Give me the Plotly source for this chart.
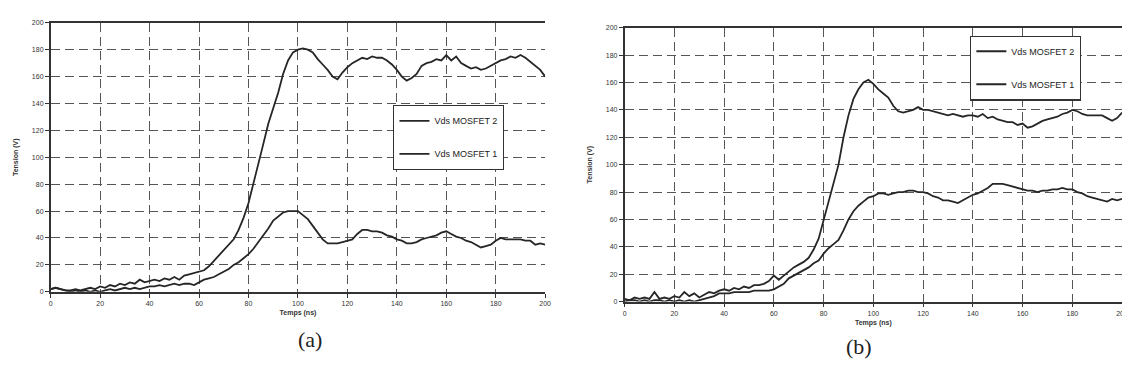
import plotly.graph_objects as go
from plotly.subplots import make_subplots

temps = list(range(0, 201, 2))

# (a) tensions Vds (V)
vds2_a = [2, 3, 2, 1, 1, 2, 1, 2, 3, 2, 4, 3, 5, 4, 6, 5, 7, 6, 9, 7,
          8, 9, 8, 10, 9, 11, 9, 12, 13, 14, 15, 16, 19, 23, 27, 31, 35, 39, 46, 55,
          66, 80, 95, 110, 125, 137, 148, 162, 172, 178, 180, 181, 180, 178, 173, 169, 165, 160, 158, 163,
          167, 170, 172, 174, 173, 175, 174, 174, 172, 169, 165, 160, 157, 159, 162, 168, 170, 171, 173, 172,
          176, 172, 175, 170, 168, 166, 167, 165, 166, 168, 170, 172, 173, 175, 174, 176, 174, 171, 168, 165,
          160]
vds1_a = [2, 3, 2, 1, 0, 1, 0, 1, 0, 1, 0, 1, 2, 1, 2, 3, 2, 3, 2, 3,
          4, 4, 5, 4, 5, 6, 5, 6, 6, 5, 7, 9, 10, 11, 13, 15, 17, 20, 22, 25,
          28, 32, 37, 42, 47, 53, 56, 59, 60, 60, 60, 57, 54, 49, 44, 39, 36, 36, 36, 37,
          38, 39, 43, 46, 46, 45, 45, 44, 42, 41, 39, 38, 36, 36, 37, 39, 40, 41, 42, 44,
          45, 43, 41, 40, 38, 37, 35, 33, 34, 35, 38, 40, 39, 39, 39, 39, 38, 38, 35, 36,
          35]

# (b)
vds2_b = [2, 1, 3, 2, 3, 2, 7, 2, 3, 2, 4, 3, 7, 4, 6, 3, 5, 7, 6, 8,
          9, 8, 10, 9, 11, 10, 12, 12, 13, 15, 19, 16, 19, 22, 25, 27, 29, 32, 38, 46,
          60, 72, 88, 100, 120, 136, 148, 155, 160, 162, 159, 155, 152, 149, 143, 139, 138, 139, 140, 142,
          140, 140, 139, 138, 137, 136, 137, 136, 135, 136, 136, 135, 137, 134, 135, 133, 132, 131, 131, 129,
          130, 127, 128, 130, 132, 133, 134, 135, 137, 138, 140, 139, 137, 136, 136, 136, 136, 134, 132, 134,
          138]
vds1_b = [0, 1, 1, 0, 1, 0, 1, 1, 0, 1, 0, 1, 0, 1, 0, 1, 2, 3, 4, 6,
          6, 6, 7, 7, 7, 7, 8, 8, 8, 8, 9, 11, 13, 17, 19, 21, 23, 25, 28, 30,
          35, 39, 42, 45, 52, 60, 66, 70, 73, 76, 77, 79, 79, 78, 79, 80, 80, 81, 81, 80,
          80, 79, 77, 76, 74, 74, 73, 72, 74, 76, 78, 79, 81, 83, 86, 86, 86, 85, 84, 83,
          82, 81, 81, 80, 81, 81, 82, 82, 83, 82, 82, 80, 79, 77, 76, 75, 74, 73, 75, 74,
          75]

W, H = 1130, 384
font = "Liberation Sans, Arial, sans-serif"
line_col = "#262626"
grid_col = "#555555"

fig = make_subplots(rows=1, cols=2)

fig.add_trace(go.Scatter(x=temps, y=vds2_a, mode="lines", name="Vds MOSFET 2",
                         line=dict(color=line_col, width=1.8), legend="legend", legendgroup="a2"), 1, 1)
fig.add_trace(go.Scatter(x=temps, y=vds1_a, mode="lines", name="Vds MOSFET 1",
                         line=dict(color=line_col, width=1.8), legend="legend", legendgroup="a1"), 1, 1)
fig.add_trace(go.Scatter(x=temps, y=vds2_b, mode="lines", name="Vds MOSFET 2",
                         line=dict(color=line_col, width=1.8), legend="legend2", legendgroup="b2"), 1, 2)
fig.add_trace(go.Scatter(x=temps, y=vds1_b, mode="lines", name="Vds MOSFET 1",
                         line=dict(color=line_col, width=1.8), legend="legend2", legendgroup="b1"), 1, 2)

axis_common = dict(
    range=[0, 200], dtick=20, showgrid=True, gridcolor=grid_col, griddash="9px,5px", gridwidth=1,
    showline=True, linecolor="#333", linewidth=1.5, ticks="outside", ticklen=4, tickcolor="#333",
    tickfont=dict(family=font, size=7, color="#333"), zeroline=False,
)
title_font = dict(family=font, size=7, color="#333")

fig.update_xaxes(**axis_common, mirror=True)
fig.update_yaxes(**axis_common)

fig.update_xaxes(domain=[41 / W, 539 / W], row=1, col=1,
                 title=dict(text="<b>Temps (ns)</b>", font=title_font, standoff=4))
fig.update_yaxes(domain=[(H - 285) / H, (H - 11) / H], row=1, col=1,
                 title=dict(text="<b>Tension (V)</b>", font=title_font, standoff=12))
fig.update_xaxes(domain=[619 / W, 1120 / W], row=1, col=2,
                 title=dict(text="<b>Temps (ns)</b>", font=title_font, standoff=4))
fig.update_yaxes(domain=[(H - 295) / H, (H - 16) / H], row=1, col=2,
                 title=dict(text="<b>Tension (V)</b>", font=title_font, standoff=12))

legend_common = dict(
    bgcolor="white", bordercolor="#333", borderwidth=1.2, tracegroupgap=14,
    font=dict(family=font, size=9, color="#222"), itemwidth=30,
    xanchor="left", yanchor="top", traceorder="grouped",
)

fig.update_layout(
    width=W, height=H,
    margin=dict(l=0, r=0, t=0, b=0),
    paper_bgcolor="white", plot_bgcolor="white",
    showlegend=True,
    legend=dict(**legend_common, x=386 / W, y=(H - 95) / H),
    legend2=dict(**legend_common, x=967 / W, y=(H - 24) / H),
    annotations=[
        dict(text="(a)", x=288 / W, y=(H - 348) / H, xref="paper", yref="paper", showarrow=False,
             font=dict(family="Liberation Serif, Times New Roman, serif", size=22, color="#222")),
        dict(text="(b)", x=870 / W, y=(H - 355) / H, xref="paper", yref="paper", showarrow=False,
             font=dict(family="Liberation Serif, Times New Roman, serif", size=22, color="#222")),
    ],
)

fig.write_html("out.html")
